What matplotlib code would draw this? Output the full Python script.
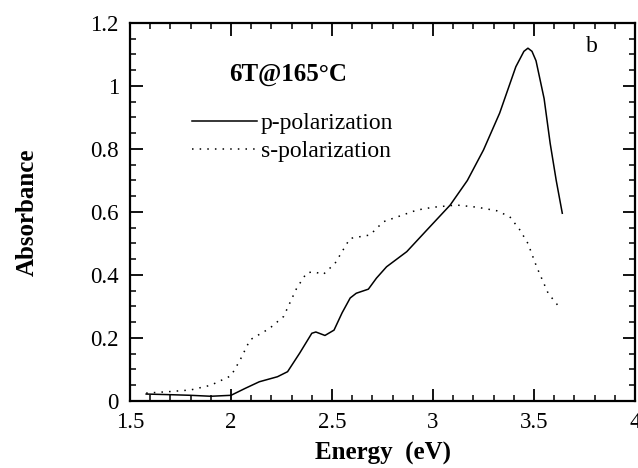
import numpy as np
import matplotlib
matplotlib.use("Agg")
import matplotlib.pyplot as plt
from matplotlib.ticker import MultipleLocator, FormatStrFormatter

# p-polarization (solid)
p_energy = [1.58, 1.70, 1.80, 1.90, 2.00, 2.07, 2.14, 2.23, 2.28, 2.34, 2.40, 2.42,
            2.465, 2.51, 2.55, 2.59, 2.62, 2.68, 2.72, 2.77, 2.87, 2.97, 3.085, 3.17,
            3.25, 3.33, 3.41, 3.45, 3.47, 3.49, 3.51, 3.55, 3.58, 3.61, 3.64]
p_abs = [0.022, 0.020, 0.018, 0.015, 0.018, 0.040, 0.061, 0.077, 0.093, 0.152, 0.215, 0.219,
         0.208, 0.225, 0.280, 0.327, 0.342, 0.355, 0.390, 0.426, 0.474, 0.543, 0.622, 0.700,
         0.797, 0.914, 1.061, 1.110, 1.120, 1.110, 1.080, 0.960, 0.818, 0.700, 0.596]

# s-polarization (dotted)
s_energy = [1.58, 1.70, 1.80, 1.90, 2.00, 2.045, 2.094, 2.19, 2.26, 2.325, 2.375, 2.41,
            2.457, 2.515, 2.589, 2.688, 2.754, 2.92, 3.00, 3.117, 3.22, 3.315, 3.38,
            3.43, 3.47, 3.513, 3.57, 3.63]
s_abs = [0.025, 0.030, 0.035, 0.050, 0.080, 0.130, 0.194, 0.230, 0.268, 0.358, 0.407, 0.410,
         0.402, 0.437, 0.516, 0.527, 0.569, 0.606, 0.615, 0.622, 0.615, 0.604, 0.585,
         0.543, 0.500, 0.426, 0.342, 0.294]

plt.rcParams['font.family'] = 'Liberation Serif'

fig = plt.figure(figsize=(6.38, 4.68), dpi=100)
ax = fig.add_axes([0.2038, 0.1432, 0.7915, 0.8077])

ax.plot(p_energy, p_abs, color='black', lw=1.1, label='p-polarization')
ax.plot(s_energy, s_abs, color='black', lw=1.1, linestyle=(0, (1, 4)), label='s-polarization')

ax.set_xlim(1.5, 4)
ax.set_ylim(0, 1.2)
ax.xaxis.set_major_locator(MultipleLocator(0.5))
ax.xaxis.set_minor_locator(MultipleLocator(0.1))
ax.yaxis.set_major_locator(MultipleLocator(0.2))
ax.yaxis.set_minor_locator(MultipleLocator(0.05))
ax.xaxis.set_major_formatter(FormatStrFormatter('%g'))
ax.yaxis.set_major_formatter(FormatStrFormatter('%g'))
ax.tick_params(which='both', direction='in', top=True, right=True, labelsize=16.5)
ax.tick_params(which='major', length=9, width=1.3)
ax.tick_params(which='minor', length=4, width=1.1)
ax.tick_params(axis='y', pad=8)
ax.tick_params(axis='x', pad=8)
for s in ax.spines.values():
    s.set_linewidth(1.6)

ax.set_xlabel('Energy  (eV)', fontsize=18, fontweight='bold', labelpad=6)
ax.set_ylabel('Absorbance', fontsize=18, fontweight='bold')
ax.yaxis.set_label_coords(-0.18, 0.5)

ax.text(0.197, 0.865, '6T@165\u00b0C', transform=ax.transAxes, fontsize=18,
        fontweight='bold', va='center', ha='left')
ax.text(0.903, 0.938, 'b', transform=ax.transAxes, fontsize=17, va='center', ha='left')

ax.legend(loc='upper left', bbox_to_anchor=(0.105, 0.787), frameon=False, fontsize=17,
          handlelength=2.75, handletextpad=0.15, labelspacing=0.25, borderaxespad=0)

fig.savefig('out.png', dpi=100)
